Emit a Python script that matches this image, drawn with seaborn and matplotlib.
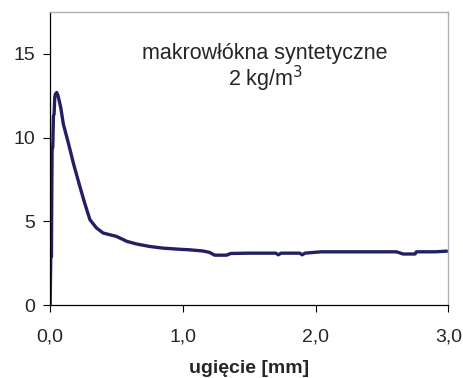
import numpy as np
import pandas as pd
import matplotlib
matplotlib.use("Agg")
import matplotlib.pyplot as plt
import seaborn as sns

# deflection [mm] and load
ugiecie = [0.0, 0.005, 0.01, 0.012, 0.015, 0.02, 0.025, 0.03, 0.035, 0.04, 0.05, 0.06,
           0.08, 0.10, 0.14, 0.176, 0.22, 0.26, 0.30, 0.35, 0.40, 0.45, 0.50, 0.54,
           0.58, 0.65, 0.75, 0.85, 0.98, 1.05, 1.15, 1.20, 1.24, 1.33, 1.36, 1.50,
           1.70, 1.72, 1.74, 1.88, 1.90, 1.92, 2.04, 2.30, 2.61, 2.66, 2.75, 2.76,
           2.90, 2.99]
sila = [0.0, 2.9, 2.9, 6.0, 9.4, 9.4, 11.3, 11.4, 12.4, 12.6, 12.7, 12.5,
        11.8, 10.8, 9.6, 8.45, 7.2, 6.1, 5.1, 4.6, 4.3, 4.2, 4.1, 3.95,
        3.8, 3.65, 3.5, 3.4, 3.33, 3.3, 3.23, 3.15, 2.98, 2.98, 3.08, 3.1,
        3.1, 3.0, 3.1, 3.1, 3.0, 3.1, 3.18, 3.18, 3.18, 3.05, 3.05, 3.18,
        3.18, 3.22]

x_ticks = [0, 1, 2, 3]
x_labels = ["0,0", "1,0", "2,0", "3,0"]
y_ticks = [0, 5, 10, 15]

sns.set_theme(style="white")
plt.rcParams['font.family'] = ['Liberation Sans', 'DejaVu Sans']

df = pd.DataFrame({"x": ugiecie, "y": sila})

fig = plt.figure(figsize=(4.64, 3.78), dpi=100)
ax = fig.add_axes([0.108, 0.193, 0.858, 0.775])

sns.lineplot(data=df, x="x", y="y", ax=ax, color="#231f63", lw=2.4,
             sort=False, estimator=None)

ax.set_xlim(0, 3)
ax.set_ylim(0, 17.5)
ax.set_xticks(x_ticks)
ax.set_xticklabels(x_labels)
ax.set_yticks(y_ticks)
ax.tick_params(axis="both", labelsize=14, direction="out", length=5,
               width=0.8, color="black", left=True, bottom=True)
ax.tick_params(axis="x", pad=12)
ax.tick_params(axis="y", pad=6)

for side in ["left", "bottom"]:
    ax.spines[side].set_color("black")
    ax.spines[side].set_linewidth(0.9)
for side in ["top", "right"]:
    ax.spines[side].set_color("#b0b0b0")
    ax.spines[side].set_linewidth(1.0)

ax.set_xlabel("ugięcie [mm]", fontsize=14, fontweight="bold", labelpad=10)
ax.set_ylabel("")

ax.text(1.62, 14.7, "makrowłókna syntetyczne", fontsize=15.5, ha="center", va="baseline")
ax.text(1.62, 13.1, "2 kg/m$^3$", fontsize=15.5, ha="center", va="baseline")

fig.savefig("out.png", dpi=100)
